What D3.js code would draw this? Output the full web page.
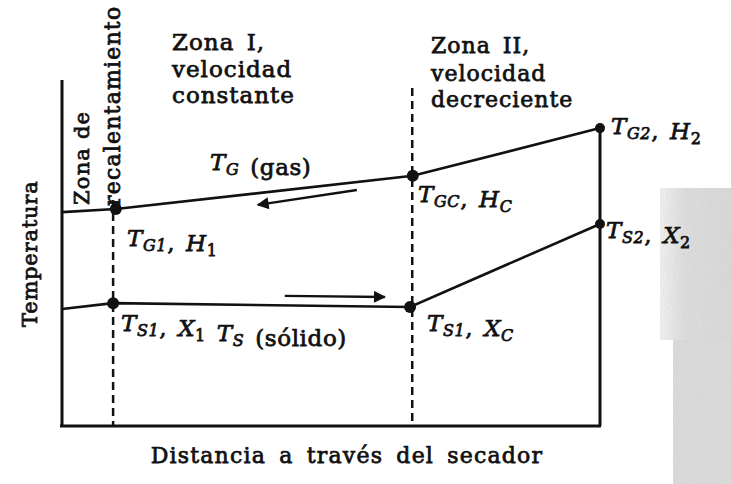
<!DOCTYPE html>
<html>
<head>
<meta charset="utf-8">
<script src="https://cdn.jsdelivr.net/npm/d3@7"></script>
<style>
  body { margin: 0; background: #fff; }
  svg { display: block; }
  text { font-family: "DejaVu Serif", "Liberation Serif", serif; fill: #111; stroke: #111; stroke-width: 0.75px; }
</style>
</head>
<body>
<div id="chart"></div>
<script>
// distance along dryer (0-100) and temperature (0-100)
const gasDist = [0, 10, 65.2, 100];
const gasTemp = [61.8, 62.7, 72.3, 86.1];
const solidDist = [0, 9.5, 64.7, 100];
const solidTemp = [33.8, 35.5, 34.4, 58.4];

// which points get a dot
const gasDots = [1, 2, 3];
const solidDots = [1, 2, 3];

// zone borders (dashed) : x position and top
const zoneX = [9.5, 65.1];
const zoneTop = [65.3, 97.7];

// flow arrows [x1, y1, x2, y2]
const gasArrow = [54.8, 68.2, 36.4, 63.9];
const solidArrow = [41.4, 37.6, 60.0, 37.3];

const width = 731, height = 484;

const svg = d3.select("#chart")
    .append("svg")
    .attr("width", width)
    .attr("height", height);

var defs = svg.append("defs");

// speckle for the grey scan patch
var f = defs.append("filter").attr("id", "speck");
f.append("feTurbulence")
    .attr("type", "fractalNoise")
    .attr("baseFrequency", 0.9)
    .attr("numOctaves", 2)
    .attr("result", "n");
f.append("feColorMatrix")
    .attr("in", "n")
    .attr("type", "matrix")
    .attr("values", "0 0 0 0 0.55  0 0 0 0 0.55  0 0 0 0 0.55  0 0 0 0.7 -0.2");
f.append("feComposite").attr("in2", "SourceGraphic").attr("operator", "atop");

var g = defs.append("linearGradient").attr("id", "fade");
g.append("stop").attr("offset", "0").attr("stop-color", "#f2f2f2");
g.append("stop").attr("offset", "0.35").attr("stop-color", "#dedede");
g.append("stop").attr("offset", "1").attr("stop-color", "#d9d9d9");

svg.append("rect")
    .attr("x", 660).attr("y", 188)
    .attr("width", 71).attr("height", 152)
    .attr("fill", "url(#fade)")
    .attr("filter", "url(#speck)");
svg.append("rect")
    .attr("x", 673).attr("y", 340)
    .attr("width", 58).attr("height", 144)
    .attr("fill", "#dcdcdc")
    .attr("filter", "url(#speck)");

var x = d3.scaleLinear().domain([0, 100]).range([62, 600]);
var y = d3.scaleLinear().domain([0, 100]).range([426, 80]);

defs.append("marker")
    .attr("id", "head")
    .attr("viewBox", "0 0 10 10")
    .attr("refX", 9).attr("refY", 5)
    .attr("markerWidth", 7).attr("markerHeight", 5)
    .attr("markerUnits", "strokeWidth")
    .attr("orient", "auto")
    .append("path")
    .attr("d", "M0,0 L10,5 L0,10 z")
    .attr("fill", "#111");

//Axes (frame)
var frame = svg.append("g")
    .attr("stroke", "#111")
    .attr("stroke-width", 3)
    .attr("fill", "none");
frame.append("line")
    .attr("x1", x(0)).attr("y1", y(100))
    .attr("x2", x(0)).attr("y2", y(0));
frame.append("line")
    .attr("x1", x(0) - 2).attr("y1", y(0))
    .attr("x2", x(100) + 1).attr("y2", y(0));
frame.append("line")
    .attr("x1", x(100)).attr("y1", y(gasTemp[3]))
    .attr("x2", x(100)).attr("y2", y(0));

//Zone borders
svg.selectAll(".zone")
    .data(zoneX)
    .enter().append("line")
    .attr("x1", d => x(d)).attr("x2", d => x(d))
    .attr("y1", (d, i) => y(zoneTop[i]))
    .attr("y2", y(0))
    .attr("stroke", "#111")
    .attr("stroke-width", 2.5)
    .attr("stroke-dasharray", "8,5");

//Profiles
var line = d3.line()
    .x(d => x(d[0]))
    .y(d => y(d[1]));

var gas = gasDist.map((d, i) => [d, gasTemp[i]]);
var solid = solidDist.map((d, i) => [d, solidTemp[i]]);

[gas, solid].forEach(pts => {
    svg.append("path")
        .datum(pts)
        .attr("d", line)
        .attr("fill", "none")
        .attr("stroke", "#111")
        .attr("stroke-width", 2.6);
});

svg.selectAll(".gdot")
    .data(gasDots)
    .enter().append("circle")
    .attr("cx", i => x(gasDist[i]))
    .attr("cy", i => y(gasTemp[i]))
    .attr("r", i => i == 3 ? 5 : 6)
    .attr("fill", "#111");

svg.selectAll(".sdot")
    .data(solidDots)
    .enter().append("circle")
    .attr("cx", i => x(solidDist[i]))
    .attr("cy", i => y(solidTemp[i]))
    .attr("r", i => i == 3 ? 5 : 6)
    .attr("fill", "#111");

//Arrows
[gasArrow, solidArrow].forEach(a => {
    svg.append("line")
        .attr("x1", x(a[0])).attr("y1", y(a[1]))
        .attr("x2", x(a[2])).attr("y2", y(a[3]))
        .attr("stroke", "#111")
        .attr("stroke-width", 2.4)
        .attr("marker-end", "url(#head)");
});

//Zone titles
function block(lines, x0, ys, size, ls) {
    lines.forEach((t, i) => {
        svg.append("text")
            .attr("x", x0).attr("y", ys[i])
            .style("font-size", size + "px")
            .style("letter-spacing", ls + "px")
            .style("word-spacing", "4px")
            .text(t);
    });
}
block(["Zona I,", "velocidad", "constante"], 172, [50, 77, 103], 23, 1);
block(["Zona II,", "velocidad", "decreciente"], 431, [53, 81, 107], 22, 1);

//Rotated labels
function vlabel(t, px, py, size, ls) {
    svg.append("text")
        .attr("transform", "translate(" + px + "," + py + ") rotate(-90)")
        .style("font-size", size + "px")
        .style("letter-spacing", ls + "px")
        .text(t);
}
vlabel("Temperatura", 37, 327, 21, 0.8);
vlabel("Zona de", 89, 205, 21, 1.2);
vlabel("recalentamiento", 120, 206, 22, 1.2);

//Point labels with subscripts
function sym(parent, main, sub) {
    parent.append("tspan").style("font-style", "italic").text(main);
    parent.append("tspan")
        .attr("dy", 5)
        .style("font-size", "16px")
        .style("font-style", /\d/.test(sub) && sub.length == 1 ? "normal" : "italic")
        .text(sub);
    parent.append("tspan").attr("dy", -5).text("");
}
function plabel(px, py, parts) {
    var t = svg.append("text")
        .attr("x", px).attr("y", py)
        .style("font-size", "23px")
        .style("letter-spacing", "0.6px")
        .style("word-spacing", "3px");
    parts.forEach(p => {
        if (typeof p === "string") t.append("tspan").text(p);
        else sym(t, p[0], p[1]);
    });
}
plabel(210, 170, [["T", "G"], " (gas)"]);
plabel(127, 246, [["T", "G1"], ", ", ["H", "1"]]);
plabel(418, 202, [["T", "GC"], ", ", ["H", "C"]]);
plabel(611, 134, [["T", "G2"], ",  ", ["H", "2"]]);
plabel(606, 238, [["T", "S2"], ",  ", ["X", "2"]]);
plabel(121, 331, [["T", "S1"], ", ", ["X", "1"], " ", ["T", "S"], " (sólido)"]);
plabel(427, 331, [["T", "S1"], ", ", ["X", "C"]]);

//X-axis label
svg.append("text")
    .attr("x", 347).attr("y", 463)
    .attr("text-anchor", "middle")
    .style("font-size", "22px")
    .style("letter-spacing", "1.2px")
    .style("word-spacing", "5px")
    .text("Distancia a través del secador");
</script>
</body>
</html>
